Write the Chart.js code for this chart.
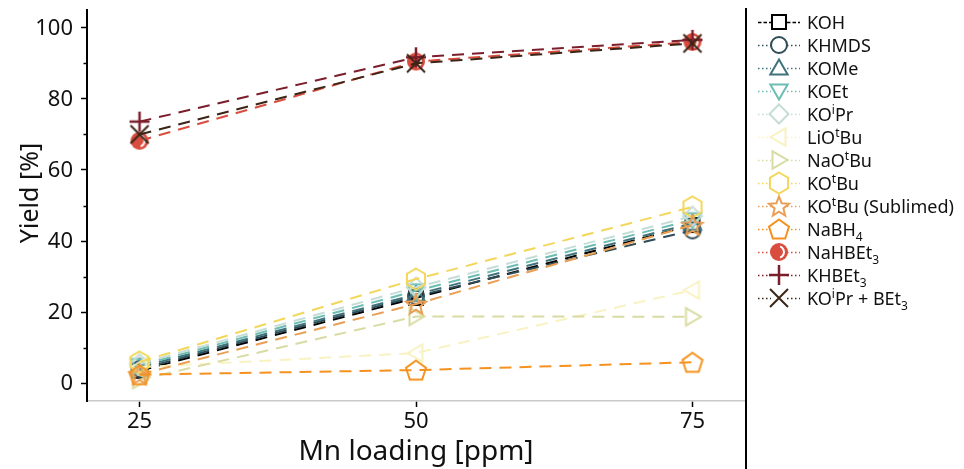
<!DOCTYPE html>
<html>
<head>
<meta charset="utf-8">
<script src="https://cdn.jsdelivr.net/npm/chart.js@4.4.1/dist/chart.umd.min.js"></script>
<style>
html, body { margin: 0; padding: 0; background: #fff; }
#wrap { width: 964px; height: 469px; position: relative; }
</style>
</head>
<body>
<div id="wrap"><canvas id="yieldChart"></canvas></div>
<script>
// Mn loading [ppm]
var loading = [25, 50, 75];

// yields [%]
var koh        = [3.5, 24.0, 44.5];
var khmds      = [4.0, 24.5, 43.0];
var kome       = [4.5, 25.0, 45.0];
var koet       = [5.0, 26.0, 46.0];
var koipr      = [5.5, 27.0, 47.0];
var liotbu     = [4.5, 8.5, 26.2];
var naotbu     = [1.0, 18.8, 18.7];
var kotbu      = [6.0, 29.3, 49.6];
var kotbuSub   = [2.5, 22.3, 44.5];
var nabh4      = [2.4, 3.7, 5.9];
var nahbet3    = [68.2, 90.5, 96.0];
var khbet3     = [73.6, 91.7, 96.6];
var koiprBet3  = [70.0, 90.0, 95.6];

var yTicks = [0, 20, 40, 60, 80, 100];
var yMinor = [10, 30, 50, 70, 90];
var xTicks = [25, 50, 75];

var series = [
    { name: [['KOH', '']],                                   data: koh,       color: '#000000', marker: 'square' },
    { name: [['KHMDS', '']],                                 data: khmds,     color: '#2f4c56', marker: 'circle' },
    { name: [['KOMe', '']],                                  data: kome,      color: '#3f737c', marker: 'triUp' },
    { name: [['KOEt', '']],                                  data: koet,      color: '#6dbdb3', marker: 'triDown' },
    { name: [['KO', ''], ['i', 'sup'], ['Pr', '']],          data: koipr,     color: '#c6ddd7', marker: 'diamond' },
    { name: [['LiO', ''], ['t', 'sup'], ['Bu', '']],         data: liotbu,    color: '#f9f2c2', marker: 'triLeft' },
    { name: [['NaO', ''], ['t', 'sup'], ['Bu', '']],         data: naotbu,    color: '#d9dca2', marker: 'triRight' },
    { name: [['KO', ''], ['t', 'sup'], ['Bu', '']],          data: kotbu,     color: '#f3d65a', marker: 'hexagon' },
    { name: [['KO', ''], ['t', 'sup'], ['Bu (Sublimed)', '']], data: kotbuSub, color: '#e99f55', marker: 'star' },
    { name: [['NaBH', ''], ['4', 'sub']],                    data: nabh4,     color: '#f5921f', marker: 'pentagon' },
    { name: [['NaHBEt', ''], ['3', 'sub']],                  data: nahbet3,   color: '#d94d3f', marker: 'halfCircle' },
    { name: [['KHBEt', ''], ['3', 'sub']],                   data: khbet3,    color: '#7b1e2c', marker: 'plus' },
    { name: [['KO', ''], ['i', 'sup'], ['Pr + BEt', ''], ['3', 'sub']], data: koiprBet3, color: '#3b2517', marker: 'cross' }
];

function polygon(ctx, n, r, startAngle) {
    ctx.beginPath();
    for (var i = 0; i < n; i++) {
        var a = startAngle + i * 2 * Math.PI / n;
        var px = Math.cos(a) * r, py = Math.sin(a) * r;
        if (i === 0) ctx.moveTo(px, py); else ctx.lineTo(px, py);
    }
    ctx.closePath();
}

function makeMarker(kind, color) {
    var size = 28;
    var c = document.createElement('canvas');
    c.width = size; c.height = size;
    var ctx = c.getContext('2d');
    ctx.translate(size / 2, size / 2);
    ctx.strokeStyle = color;
    ctx.fillStyle = color;
    ctx.lineWidth = 2;
    var up = -Math.PI / 2;
    if (kind === 'square') {
        ctx.strokeRect(-7, -7, 14, 14);
    } else if (kind === 'circle') {
        ctx.beginPath(); ctx.arc(0, 0, 8, 0, 2 * Math.PI); ctx.stroke();
    } else if (kind === 'triUp') {
        ctx.translate(0, 1.5); polygon(ctx, 3, 10, up); ctx.stroke();
    } else if (kind === 'triDown') {
        ctx.translate(0, -1.5); polygon(ctx, 3, 10, Math.PI / 2); ctx.stroke();
    } else if (kind === 'triLeft') {
        ctx.translate(1.5, 0); polygon(ctx, 3, 10, Math.PI); ctx.stroke();
    } else if (kind === 'triRight') {
        ctx.translate(-1.5, 0); polygon(ctx, 3, 10, 0); ctx.stroke();
    } else if (kind === 'diamond') {
        polygon(ctx, 4, 9.5, up); ctx.stroke();
    } else if (kind === 'hexagon') {
        polygon(ctx, 6, 10.5, up); ctx.stroke();
    } else if (kind === 'pentagon') {
        ctx.translate(0, 1); polygon(ctx, 5, 10.5, up); ctx.stroke();
    } else if (kind === 'star') {
        ctx.beginPath();
        for (var i = 0; i < 10; i++) {
            var r = (i % 2 === 0) ? 10.5 : 4.6;
            var a = up + i * Math.PI / 5;
            if (i === 0) ctx.moveTo(Math.cos(a) * r, Math.sin(a) * r + 1);
            else ctx.lineTo(Math.cos(a) * r, Math.sin(a) * r + 1);
        }
        ctx.closePath(); ctx.stroke();
    } else if (kind === 'halfCircle') {
        ctx.beginPath(); ctx.arc(0, 0, 9, 0, 2 * Math.PI); ctx.fill();
        ctx.strokeStyle = '#ffffff'; ctx.lineWidth = 2;
        ctx.beginPath(); ctx.arc(-1, 0, 6, -Math.PI / 2.6, Math.PI / 2.6); ctx.stroke();
    } else if (kind === 'plus') {
        ctx.lineWidth = 2.5;
        ctx.beginPath(); ctx.moveTo(-10, 0); ctx.lineTo(10, 0); ctx.moveTo(0, -10); ctx.lineTo(0, 10); ctx.stroke();
    } else if (kind === 'cross') {
        ctx.lineWidth = 2;
        ctx.beginPath(); ctx.moveTo(-9, -9); ctx.lineTo(9, 9); ctx.moveTo(9, -9); ctx.lineTo(-9, 9); ctx.stroke();
    }
    return c;
}

series.forEach(function (s) { s.img = makeMarker(s.marker, s.color); });

var datasets = series.map(function (s, i) {
    return {
        label: s.name.map(function (p) { return p[0]; }).join(''),
        data: loading.map(function (x, j) { return { x: x, y: s.data[j] }; }),
        borderColor: s.color,
        backgroundColor: s.color,
        borderWidth: 2,
        borderDash: [12, 8],
        pointStyle: s.img,
        pointRadius: 8,
        pointHoverRadius: 8,
        order: series.length - i,
        clip: false
    };
});

var FONT = '"Noto Sans", sans-serif';

var extrasPlugin = {
    id: 'extras',
    afterDraw: function (chart) {
        var ctx = chart.ctx;
        var area = chart.chartArea;
        var ys = chart.scales.y;
        ctx.save();
        // minor ticks on y
        ctx.strokeStyle = '#000';
        ctx.lineWidth = 1.5;
        yMinor.forEach(function (v) {
            var py = Math.round(ys.getPixelForValue(v)) + 0.5;
            ctx.beginPath(); ctx.moveTo(area.left - 3.5, py); ctx.lineTo(area.left, py); ctx.stroke();
        });
        // y tick labels
        ctx.fillStyle = '#111';
        ctx.font = '22px ' + FONT;
        ctx.textAlign = 'right';
        ctx.textBaseline = 'middle';
        yTicks.forEach(function (v) {
            ctx.fillText(String(v), 73, ys.getPixelForValue(v) + 1);
        });
        // right frame line
        ctx.lineWidth = 2;
        ctx.beginPath(); ctx.moveTo(area.right + 1, area.top - 2); ctx.lineTo(area.right + 1, 469); ctx.stroke();

        // y axis title
        ctx.save();
        ctx.translate(31, 193);
        ctx.rotate(-Math.PI / 2);
        ctx.fillStyle = '#111';
        ctx.font = '25px ' + FONT;
        ctx.textAlign = 'center';
        ctx.textBaseline = 'middle';
        ctx.fillText('Yield [%]', 0, 0);
        ctx.restore();

        // legend
        var x0 = 758, x1 = 800, mx = 779, tx = 807;
        series.forEach(function (s, i) {
            var cy = 22 + i * 23;
            ctx.strokeStyle = s.color;
            ctx.lineWidth = 1.6;
            ctx.setLineDash(i === 0 ? [3.5, 2] : [1.5, 2.5]);
            ctx.beginPath();
            ctx.moveTo(x0, cy + 0.5); ctx.lineTo(mx - 8, cy + 0.5);
            ctx.moveTo(mx + 8, cy + 0.5); ctx.lineTo(x1, cy + 0.5);
            ctx.stroke();
            ctx.setLineDash([]);
            ctx.drawImage(s.img, mx - s.img.width / 2, cy - s.img.height / 2);
            var x = tx;
            var base = cy + 6.5;
            ctx.fillStyle = '#111';
            ctx.textBaseline = 'alphabetic';
            ctx.textAlign = 'left';
            s.name.forEach(function (p) {
                if (p[1] === 'sup') {
                    ctx.font = '12px ' + FONT;
                    ctx.fillText(p[0], x, base - 7);
                } else if (p[1] === 'sub') {
                    ctx.font = '12px ' + FONT;
                    ctx.fillText(p[0], x, base + 5);
                } else {
                    ctx.font = '18px ' + FONT;
                    ctx.fillText(p[0], x, base);
                }
                x += ctx.measureText(p[0]).width;
            });
        });
        ctx.restore();
    }
};

new Chart(document.getElementById('yieldChart'), {
    type: 'line',
    data: { datasets: datasets },
    plugins: [extrasPlugin],
    options: {
        responsive: true,
        maintainAspectRatio: false,
        animation: false,
        devicePixelRatio: 1,
        layout: { autoPadding: false, padding: { top: 0, right: 219, left: 0, bottom: 0 } },
        plugins: {
            legend: { display: false },
            tooltip: { enabled: false }
        },
        scales: {
            x: {
                type: 'linear',
                min: 20.25,
                max: 79.75,
                afterBuildTicks: function (scale) {
                    scale.ticks = xTicks.map(function (v) { return { value: v }; });
                },
                afterFit: function (scale) { scale.height = 68; },
                grid: { drawOnChartArea: false, drawTicks: true, tickLength: 6, tickColor: '#000', tickWidth: 1.5 },
                border: { display: true, color: '#c8c8c8', width: 1.5 },
                ticks: { color: '#111', padding: 2, maxRotation: 0, font: { family: FONT, size: 22 } },
                title: { display: true, text: 'Mn loading [ppm]', color: '#111', padding: { top: 0, bottom: 0 }, font: { family: FONT, size: 28 } }
            },
            y: {
                type: 'linear',
                min: -5,
                max: 105,
                afterBuildTicks: function (scale) {
                    scale.ticks = yTicks.map(function (v) { return { value: v }; });
                },
                afterFit: function (scale) {
                    scale.width = 87;
                    scale.paddingTop = 10;
                    scale.paddingBottom = 0;
                },
                grid: { drawOnChartArea: false, drawTicks: true, tickLength: 6, tickColor: '#000', tickWidth: 1.5 },
                border: { display: true, color: '#000', width: 2 },
                ticks: { display: false, font: { family: FONT, size: 22 } },
                title: { display: false }
            }
        }
    }
});
</script>
</body>
</html>
